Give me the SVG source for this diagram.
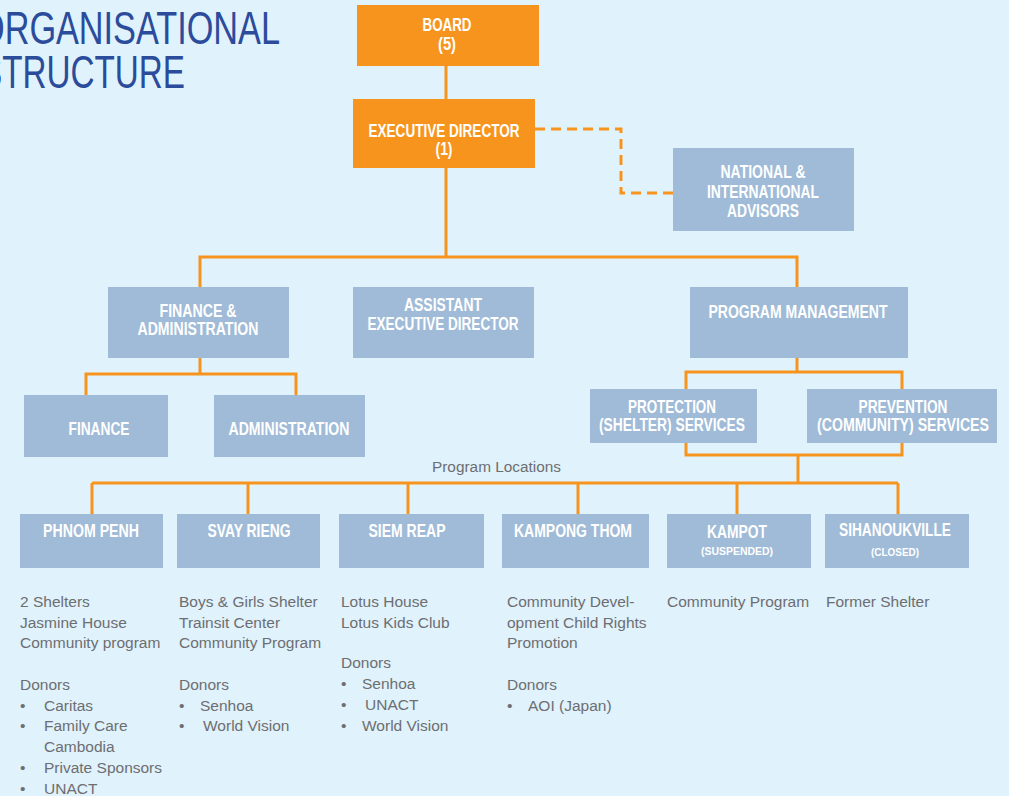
<svg xmlns="http://www.w3.org/2000/svg" width="1009" height="796" viewBox="0 0 1009 796">
<style>
.bg{fill:#E0F2FC}
.or{fill:#F7941D}
.bl{fill:#A0BBD7}
.ln{fill:none;stroke:#F7941D;stroke-width:3}
.dash{fill:none;stroke:#F7941D;stroke-width:3;stroke-dasharray:10,6}
.lbl{font-family:"Liberation Sans Narrow","Liberation Sans",Arial,sans-serif;font-size:17.5px;font-weight:bold;fill:#FFFFFF;text-anchor:middle}
.sm{font-family:"Liberation Sans Narrow","Liberation Sans",Arial,sans-serif;font-size:11.5px;font-weight:bold;fill:#FFFFFF;text-anchor:middle}
.title{font-family:"Liberation Sans Narrow","Liberation Sans",Arial,sans-serif;font-size:46px;fill:#2B4B9B}
.body{font-family:"Liberation Sans",Arial,sans-serif;font-size:15.5px;fill:#6D6E71}
</style>
<rect class="bg" x="0" y="0" width="1009" height="796"/>

<g id="title">
<text class="title" x="-22" y="44" textLength="302" lengthAdjust="spacingAndGlyphs">ORGANISATIONAL</text>
<text class="title" x="-20" y="88" textLength="205" lengthAdjust="spacingAndGlyphs">STRUCTURE</text>
</g>

<g id="connectors">
<line class="ln" x1="446" y1="66" x2="446" y2="99"/>
<polyline class="dash" points="535,129 621,129 621,193 673,193"/>
<line class="ln" x1="446" y1="168" x2="446" y2="257"/>
<polyline class="ln" points="200,287 200,257 797,257 797,287"/>
<line class="ln" x1="200" y1="358" x2="200" y2="374"/>
<polyline class="ln" points="86,395 86,374 296,374 296,395"/>
<line class="ln" x1="797" y1="358" x2="797" y2="372"/>
<rect class="ln" x="686" y="372" width="216" height="83"/>
<line class="ln" x1="798" y1="455" x2="798" y2="483"/>
<line class="ln" x1="92" y1="483" x2="898" y2="483"/>
<line class="ln" x1="92" y1="483" x2="92" y2="514"/>
<line class="ln" x1="248" y1="483" x2="248" y2="514"/>
<line class="ln" x1="408" y1="483" x2="408" y2="514"/>
<line class="ln" x1="578" y1="483" x2="578" y2="514"/>
<line class="ln" x1="737" y1="483" x2="737" y2="514"/>
<line class="ln" x1="898" y1="483" x2="898" y2="514"/>
</g>

<g id="board">
<rect class="or" x="357" y="5" width="182" height="61"/>
<text class="lbl" x="447" y="31" textLength="49" lengthAdjust="spacingAndGlyphs">BOARD</text>
<text class="lbl" x="447" y="50" textLength="18" lengthAdjust="spacingAndGlyphs">(5)</text>
</g>

<g id="executive-director">
<rect class="or" x="353" y="99" width="182" height="69"/>
<text class="lbl" x="444" y="137" textLength="151" lengthAdjust="spacingAndGlyphs">EXECUTIVE DIRECTOR</text>
<text class="lbl" x="444" y="155" textLength="17" lengthAdjust="spacingAndGlyphs">(1)</text>
</g>

<g id="advisors">
<rect class="bl" x="673" y="148" width="181" height="83"/>
<text class="lbl" x="763" y="178" textLength="85" lengthAdjust="spacingAndGlyphs">NATIONAL &amp;</text>
<text class="lbl" x="763" y="198" textLength="112" lengthAdjust="spacingAndGlyphs">INTERNATIONAL</text>
<text class="lbl" x="763" y="217" textLength="72" lengthAdjust="spacingAndGlyphs">ADVISORS</text>
</g>

<g id="finance-admin">
<rect class="bl" x="108" y="287" width="181" height="71"/>
<text class="lbl" x="198" y="317" textLength="77" lengthAdjust="spacingAndGlyphs">FINANCE &amp;</text>
<text class="lbl" x="198" y="335" textLength="121" lengthAdjust="spacingAndGlyphs">ADMINISTRATION</text>
</g>

<g id="assistant-ed">
<rect class="bl" x="353" y="287" width="181" height="71"/>
<text class="lbl" x="443" y="311" textLength="78" lengthAdjust="spacingAndGlyphs">ASSISTANT</text>
<text class="lbl" x="443" y="330" textLength="151" lengthAdjust="spacingAndGlyphs">EXECUTIVE DIRECTOR</text>
</g>

<g id="program-management">
<rect class="bl" x="690" y="287" width="218" height="71"/>
<text class="lbl" x="798" y="318" textLength="179" lengthAdjust="spacingAndGlyphs">PROGRAM MANAGEMENT</text>
</g>

<g id="finance">
<rect class="bl" x="24" y="395" width="144" height="62"/>
<text class="lbl" x="99" y="435" textLength="61" lengthAdjust="spacingAndGlyphs">FINANCE</text>
</g>

<g id="administration">
<rect class="bl" x="214" y="395" width="151" height="62"/>
<text class="lbl" x="289" y="435" textLength="121" lengthAdjust="spacingAndGlyphs">ADMINISTRATION</text>
</g>

<g id="protection">
<rect class="bl" x="590" y="389" width="167" height="54"/>
<text class="lbl" x="672" y="413" textLength="88" lengthAdjust="spacingAndGlyphs">PROTECTION</text>
<text class="lbl" x="672" y="431" textLength="146" lengthAdjust="spacingAndGlyphs">(SHELTER) SERVICES</text>
</g>

<g id="prevention">
<rect class="bl" x="807" y="389" width="190" height="54"/>
<text class="lbl" x="903" y="413" textLength="89" lengthAdjust="spacingAndGlyphs">PREVENTION</text>
<text class="lbl" x="903" y="431" textLength="172" lengthAdjust="spacingAndGlyphs">(COMMUNITY) SERVICES</text>
</g>

<g id="program-locations-label">
<text class="body" x="432" y="472" textLength="129" lengthAdjust="spacingAndGlyphs">Program Locations</text>
</g>

<g id="phnom-penh">
<rect class="bl" x="20" y="514" width="143" height="54"/>
<text class="lbl" x="91" y="537" textLength="96" lengthAdjust="spacingAndGlyphs">PHNOM PENH</text>
</g>
<g id="svay-rieng">
<rect class="bl" x="177" y="514" width="143" height="54"/>
<text class="lbl" x="249" y="537" textLength="83" lengthAdjust="spacingAndGlyphs">SVAY RIENG</text>
</g>
<g id="siem-reap">
<rect class="bl" x="339" y="514" width="145" height="54"/>
<text class="lbl" x="407" y="537" textLength="77" lengthAdjust="spacingAndGlyphs">SIEM REAP</text>
</g>
<g id="kampong-thom">
<rect class="bl" x="502" y="514" width="147" height="54"/>
<text class="lbl" x="573" y="537" textLength="118" lengthAdjust="spacingAndGlyphs">KAMPONG THOM</text>
</g>
<g id="kampot">
<rect class="bl" x="667" y="514" width="144" height="54"/>
<text class="lbl" x="737" y="538" textLength="60" lengthAdjust="spacingAndGlyphs">KAMPOT</text>
<text class="sm" x="737" y="555" textLength="72" lengthAdjust="spacingAndGlyphs">(SUSPENDED)</text>
</g>
<g id="sihanoukville">
<rect class="bl" x="825" y="514" width="144" height="54"/>
<text class="lbl" x="895" y="536" textLength="112" lengthAdjust="spacingAndGlyphs">SIHANOUKVILLE</text>
<text class="sm" x="895" y="556" textLength="48" lengthAdjust="spacingAndGlyphs">(CLOSED)</text>
</g>

<g id="notes-phnom-penh" class="body">
<text x="20" y="607">2 Shelters</text>
<text x="20" y="627.5">Jasmine House</text>
<text x="20" y="648">Community program</text>
<text x="20" y="690">Donors</text>
<text x="20" y="711">•</text><text x="44" y="711">Caritas</text>
<text x="20" y="731">•</text><text x="44" y="731">Family Care</text>
<text x="44" y="752">Cambodia</text>
<text x="20" y="773">•</text><text x="44" y="773">Private Sponsors</text>
<text x="20" y="793.5">•</text><text x="44" y="793.5">UNACT</text>
</g>
<g id="notes-svay-rieng" class="body">
<text x="179" y="607">Boys &amp; Girls Shelter</text>
<text x="179" y="627.5">Trainsit Center</text>
<text x="179" y="648">Community Program</text>
<text x="179" y="690">Donors</text>
<text x="179" y="711">•</text><text x="200" y="711">Senhoa</text>
<text x="179" y="731">•</text><text x="203" y="731">World Vision</text>
</g>
<g id="notes-siem-reap" class="body">
<text x="341" y="607">Lotus House</text>
<text x="341" y="627.5">Lotus Kids Club</text>
<text x="341" y="668">Donors</text>
<text x="341" y="689">•</text><text x="362" y="689">Senhoa</text>
<text x="341" y="710">•</text><text x="365" y="710">UNACT</text>
<text x="341" y="731">•</text><text x="362" y="731">World Vision</text>
</g>
<g id="notes-kampong-thom" class="body">
<text x="507" y="607">Community Devel-</text>
<text x="507" y="627.5">opment Child Rights</text>
<text x="507" y="648">Promotion</text>
<text x="507" y="690">Donors</text>
<text x="507" y="711">•</text><text x="528" y="711">AOI (Japan)</text>
</g>
<g id="notes-kampot" class="body">
<text x="667" y="607">Community Program</text>
</g>
<g id="notes-sihanoukville" class="body">
<text x="826" y="607">Former Shelter</text>
</g>
</svg>
